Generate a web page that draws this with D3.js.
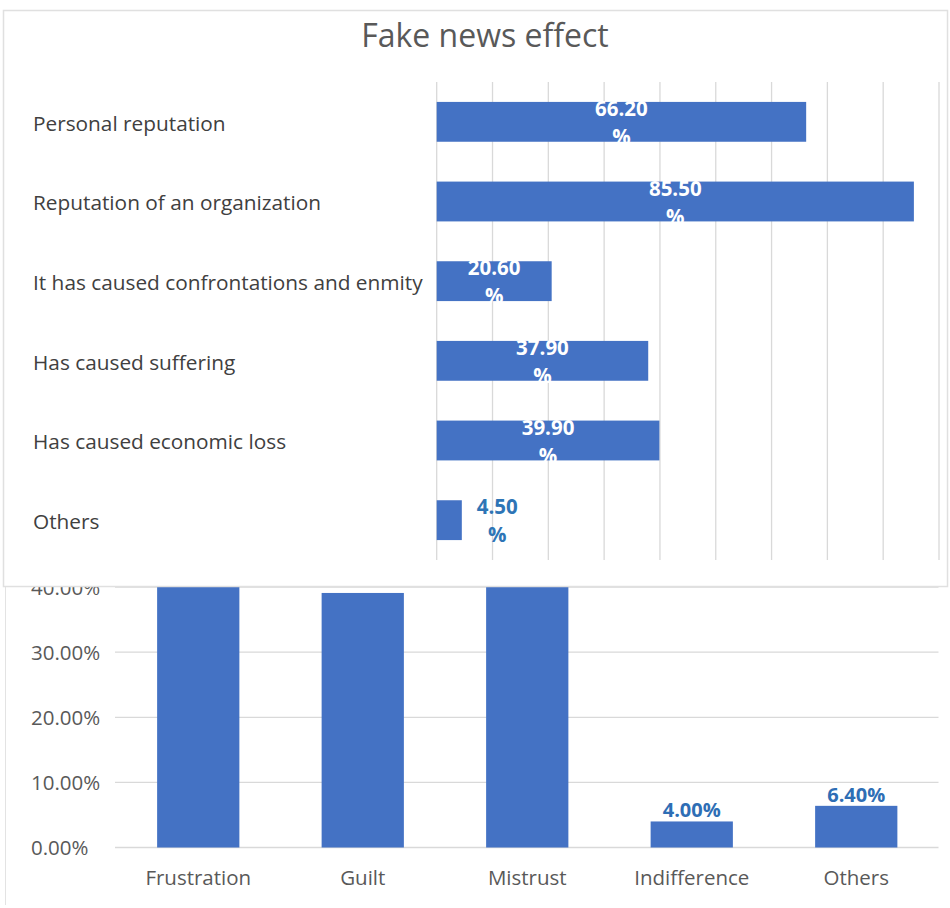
<!DOCTYPE html>
<html>
<head>
<meta charset="utf-8">
<script src="https://cdn.jsdelivr.net/npm/d3@7"></script>
<style>
  html, body { margin: 0; padding: 0; background: #ffffff; }
  svg { display: block; font-family: "Open Sans", "Noto Sans", sans-serif; }
</style>
</head>
<body>
<div id="chart"></div>
<script>
// ---- Data ----
const title = "Fake news effect";
const effectCategories = ["Personal reputation", "Reputation of an organization",
  "It has caused confrontations and enmity", "Has caused suffering",
  "Has caused economic loss", "Others"];
const effectValues = [66.20, 85.50, 20.60, 37.90, 39.90, 4.50];
const effectTicks = [0, 10, 20, 30, 40, 50, 60, 70, 80, 90];

const feelingCategories = ["Frustration", "Guilt", "Mistrust", "Indifference", "Others"];
const feelingValues = [46.50, 39.10, 49.30, 4.00, 6.40];   // first & third bars are hidden above 40%
const feelingTicks = [0, 10, 20, 30, 40];

// ---- Setup ----
const W = 950, H = 908;
const blue = "#4472C4";
const grid = "#d9d9d9";
const svg = d3.select("#chart").append("svg").attr("width", W).attr("height", H);
svg.append("rect").attr("width", W).attr("height", H).attr("fill", "#fff");

// ================= Bottom (vertical) chart =================
const gBottom = svg.append("g");
gBottom.append("line").attr("x1", 5.5).attr("x2", 5.5).attr("y1", 580).attr("y2", 905)
  .attr("stroke", "#e3e3e3");

const yB = d3.scaleLinear().domain([0, 60]).range([847.5, 847.5 - 60 * 6.51]);
const xB = d3.scaleBand().domain(feelingCategories).range([116, 938.5])
  .paddingInner(0.5).paddingOuter(0.25);

gBottom.append("g").selectAll("line").data(feelingTicks).join("line")
  .attr("x1", 115).attr("x2", 938.5)
  .attr("y1", d => yB(d)).attr("y2", d => yB(d))
  .attr("stroke", grid).attr("stroke-width", 1.3);

const yAxisB = d3.axisLeft(yB).tickValues(feelingTicks).tickSize(0).tickPadding(0)
  .tickFormat(d => d.toFixed(2) + "%");
const gyB = gBottom.append("g").attr("transform", "translate(31,0)").call(yAxisB);
gyB.select(".domain").remove();
gyB.selectAll("text").attr("text-anchor", "start").attr("font-size", 20.5).attr("fill", "#595959")
  .attr("font-family", "'Open Sans', sans-serif").attr("dy", "0.36em");

gBottom.append("g").selectAll("rect").data(feelingValues).join("rect")
  .attr("x", (d, i) => xB(feelingCategories[i]))
  .attr("width", xB.bandwidth())
  .attr("y", d => yB(d))
  .attr("height", d => yB(0) - yB(d))
  .attr("fill", blue);

gBottom.append("g").selectAll("text").data(feelingValues.map((v, i) => ({v, i})).filter(d => d.v < 35))
  .join("text")
  .attr("x", d => xB(feelingCategories[d.i]) + xB.bandwidth() / 2)
  .attr("y", d => yB(d.v) - 4)
  .attr("text-anchor", "middle")
  .attr("font-size", 20).attr("font-weight", "bold").attr("fill", "#2E6EB5")
  .text(d => d.v.toFixed(2) + "%");

const xAxisB = d3.axisBottom(xB).tickSize(0).tickPadding(0);
const gxB = gBottom.append("g").attr("transform", "translate(0,885)").call(xAxisB);
gxB.select(".domain").remove();
gxB.selectAll("text").attr("font-size", 20.5).attr("fill", "#595959").attr("dy", 0)
  .attr("font-family", "'Open Sans', sans-serif");

// ================= Top card (horizontal chart) =================
const gTop = svg.append("g");
gTop.append("rect").attr("x", 3.5).attr("y", 10.5).attr("width", 944).attr("height", 576)
  .attr("fill", "#fff").attr("stroke", "#e0e0e0").attr("stroke-width", 1.5);

gTop.append("text").attr("x", 485).attr("y", 47).attr("text-anchor", "middle")
  .attr("font-size", 32).attr("fill", "#595959").text(title);

const xT = d3.scaleLinear().domain([0, 90]).range([436.7, 939]);
const yT = d3.scaleBand().domain(effectCategories).range([82, 560])
  .paddingInner(0.5).paddingOuter(0.25);

gTop.append("g").selectAll("line").data(effectTicks).join("line")
  .attr("x1", d => xT(d)).attr("x2", d => xT(d))
  .attr("y1", 82).attr("y2", 560)
  .attr("stroke", grid).attr("stroke-width", 1.3);

const yAxisT = d3.axisLeft(yT).tickSize(0).tickPadding(0);
const gyT = gTop.append("g").attr("transform", "translate(33,0)").call(yAxisT);
gyT.select(".domain").remove();
gyT.selectAll("text").attr("text-anchor", "start").attr("font-size", 20.8)
  .attr("fill", "#404040").attr("font-family", "'Open Sans', sans-serif").attr("dy", "0.42em");

gTop.append("g").selectAll("rect").data(effectValues).join("rect")
  .attr("x", xT(0))
  .attr("y", (d, i) => yT(effectCategories[i]))
  .attr("width", d => xT(d) - xT(0))
  .attr("height", yT.bandwidth())
  .attr("fill", blue);

const lbl = gTop.append("g").selectAll("text").data(effectValues.map((v, i) => ({v, i}))).join("text")
  .attr("text-anchor", "middle")
  .attr("font-size", 20.5).attr("font-weight", "bold")
  .attr("fill", d => d.v < 10 ? "#2E75B6" : "#ffffff")
  .attr("x", d => d.v < 10 ? xT(d.v) + 35.5 : (xT(0) + xT(d.v)) / 2)
  .attr("y", d => yT(effectCategories[d.i]) + yT.bandwidth() / 2);
lbl.append("tspan").attr("x", function() { return d3.select(this.parentNode).attr("x"); })
  .attr("dy", -6).text(d => d.v.toFixed(2));
lbl.append("tspan").attr("x", function() { return d3.select(this.parentNode).attr("x"); })
  .attr("dy", 28).text("%");
</script>
</body>
</html>
